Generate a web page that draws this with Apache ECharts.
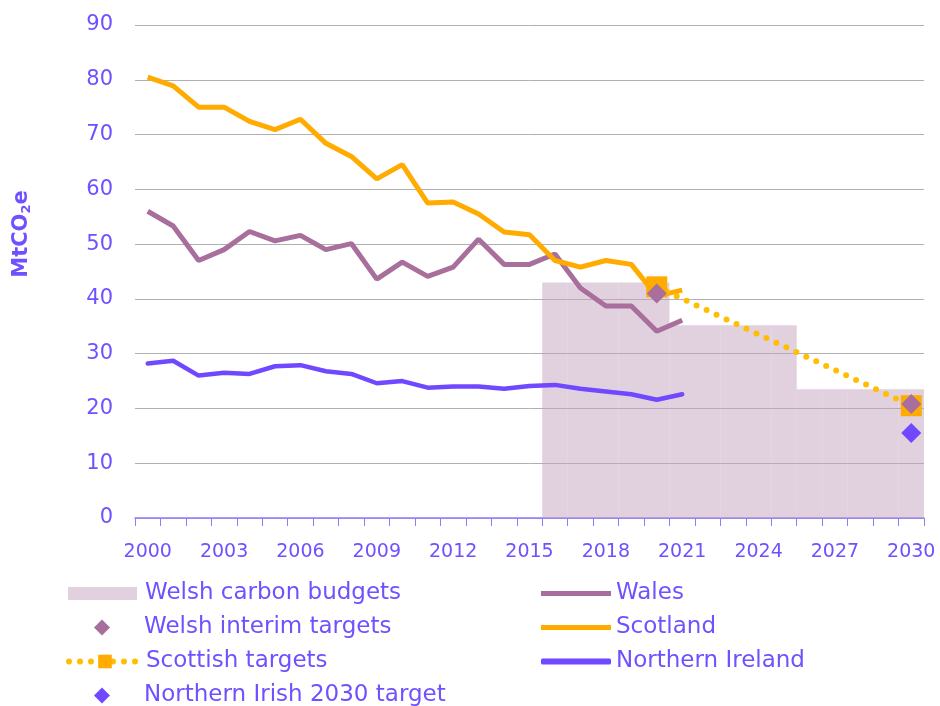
<!DOCTYPE html>
<html>
<head>
<meta charset="utf-8">
<script src="https://cdn.jsdelivr.net/npm/echarts@6/dist/echarts.min.js"></script>
<style>
html, body { margin: 0; padding: 0; background: #fff; }
#main { width: 940px; height: 706px; }
</style>
</head>
<body>
<div id="main"></div>
<script>
// years on the x axis
var years = [];
for (var y = 2000; y <= 2030; y++) years.push(String(y));

// annual emissions, MtCO2e, 2000-2021
var wales = [56, 53.3, 47, 49, 52.3, 50.6, 51.6, 49, 50.1, 43.6, 46.7, 44.1, 45.8, 50.9, 46.3, 46.3, 48.2, 42, 38.7, 38.7, 34.1, 36.1];
var scotland = [80.5, 78.9, 75, 75, 72.4, 70.9, 72.8, 68.4, 66, 61.9, 64.5, 57.5, 57.7, 55.5, 52.2, 51.7, 47, 45.8, 47, 46.3, 40.5, 41.6];
var northernIreland = [28.2, 28.7, 26, 26.5, 26.3, 27.7, 27.9, 26.8, 26.3, 24.6, 25, 23.8, 24, 24, 23.6, 24.1, 24.3, 23.6, 23.1, 22.6, 21.6, 22.6];

// Welsh carbon budgets (annual average), per period
var budgetStart = [2016, 2021, 2026];
var budgetEnd = [2020, 2025, 2030];
var budgetValue = [43, 35.2, 23.5];

// targets
var welshTargetYears = [2020, 2030];
var welshTargetValues = [41, 20.8];
var scottishTargetYears = [2020, 2030];
var scottishTargetValues = [42.2, 20.5];
var niTargetYears = [2030];
var niTargetValues = [15.5];

var textColor = '#7050ff';
var font = 'DejaVu Sans';

function padSeries(vals) {
	var out = years.map(function () { return null; });
	vals.forEach(function (v, i) { out[i] = v; });
	return out;
}
function pointSeries(ys, vals) {
	var out = years.map(function () { return null; });
	ys.forEach(function (yr, i) { out[yr - 2000] = vals[i]; });
	return out;
}
var budgetData = years.map(function () { return null; });
budgetValue.forEach(function (v, i) {
	for (var yr = budgetStart[i]; yr <= budgetEnd[i]; yr++) budgetData[yr - 2000] = v;
});

// one legend box per entry so each icon can have its own shape and size
function legendItem(name, icon, left, centerY, w, h, textPad) {
	return {
		left : left,
		top : centerY - 10,
		padding : 0,
		itemWidth : w,
		itemHeight : h,
		lineStyle : { width : 6 },
		textStyle : { color : textColor, fontSize : 23, fontFamily : font, padding : [ 0, 0, 0, textPad || 0 ] },
		data : [ icon ? { name : name, icon : icon } : name ]
	};
}

var myChart = echarts.init(document.getElementById('main'));

myChart.setOption({
	animation : false,
	textStyle : { fontFamily : font },
	grid : { left : 135, right : 16, top : 25, bottom : 188 },
	graphic : [ {
		type : 'text',
		x : 22,
		y : 234,
		rotation : Math.PI / 2,
		style : {
			text : '{a|MtCO}{b|2}{a|e}',
			align : 'center',
			verticalAlign : 'middle',
			fill : textColor,
			rich : {
				a : { fontSize : 21, fontWeight : 'bold', fill : textColor, fontFamily : font },
				b : { fontSize : 13, fontWeight : 'bold', fill : textColor, fontFamily : font, padding : [ 10, 0, 0, 0 ] }
			}
		}
	} ],
	legend : [
		legendItem('Welsh carbon budgets', 'rect', 68, 592, 69, 13, 3),
		legendItem('Welsh interim targets', 'diamond', 94, 626, 16, 16, 29),
		legendItem('Scottish targets', null, 66, 660, 72, 17),
		legendItem('Northern Irish 2030 target', 'diamond', 94, 694, 16, 16, 29),
		legendItem('Wales', 'rect', 541, 592, 70, 5),
		legendItem('Scotland', 'rect', 541, 626, 70, 5),
		legendItem('Northern Ireland', 'roundRect', 541, 660, 70, 6)
	],
	xAxis : {
		type : 'category',
		data : years,
		boundaryGap : true,
		axisLine : { lineStyle : { color : '#8f7bff', width : 1.5 } },
		axisTick : { show : true, interval : 0, length : 8, lineStyle : { color : '#8f7bff' } },
		axisLabel : { interval : 2, color : textColor, fontSize : 19, margin : 25 }
	},
	yAxis : {
		type : 'value',
		min : 0,
		max : 90,
		interval : 10,
		axisLine : { show : false },
		axisTick : { show : false },
		axisLabel : { color : textColor, fontSize : 21, margin : 22 },
		splitLine : { lineStyle : { color : '#b0b0b0', width : 1 } }
	},
	series : [ {
		name : 'Welsh carbon budgets',
		type : 'bar',
		data : budgetData,
		barCategoryGap : '0%',
		itemStyle : { color : 'rgba(196, 164, 192, 0.5)' }
	}, {
		name : 'Northern Ireland',
		type : 'line',
		data : padSeries(northernIreland),
		symbol : 'none',
		lineStyle : { color : '#7048ff', width : 4.5, cap : 'round' },
		itemStyle : { color : '#7048ff' }
	}, {
		name : 'Wales',
		type : 'line',
		data : padSeries(wales),
		symbol : 'none',
		lineStyle : { color : '#a86e9c', width : 5 },
		itemStyle : { color : '#a86e9c' }
	}, {
		name : 'Scotland',
		type : 'line',
		data : padSeries(scotland),
		symbol : 'none',
		lineStyle : { color : '#ffab00', width : 5 },
		itemStyle : { color : '#ffab00' }
	}, {
		name : 'Scottish targets',
		type : 'line',
		data : pointSeries(scottishTargetYears, scottishTargetValues),
		connectNulls : true,
		showAllSymbol : true,
		symbol : 'rect',
		symbolSize : 21,
		lineStyle : { color : '#ffbf00', width : 6, type : [ 0, 11 ], cap : 'round' },
		itemStyle : { color : '#ffab00' }
	}, {
		name : 'Welsh interim targets',
		type : 'scatter',
		z : 5,
		data : pointSeries(welshTargetYears, welshTargetValues),
		symbol : 'diamond',
		symbolSize : 20,
		itemStyle : { color : '#a86e9c', opacity : 1 }
	}, {
		name : 'Northern Irish 2030 target',
		type : 'scatter',
		z : 5,
		data : pointSeries(niTargetYears, niTargetValues),
		symbol : 'diamond',
		symbolSize : 20,
		itemStyle : { color : '#7048ff', opacity : 1 }
	} ]
});
</script>
</body>
</html>
